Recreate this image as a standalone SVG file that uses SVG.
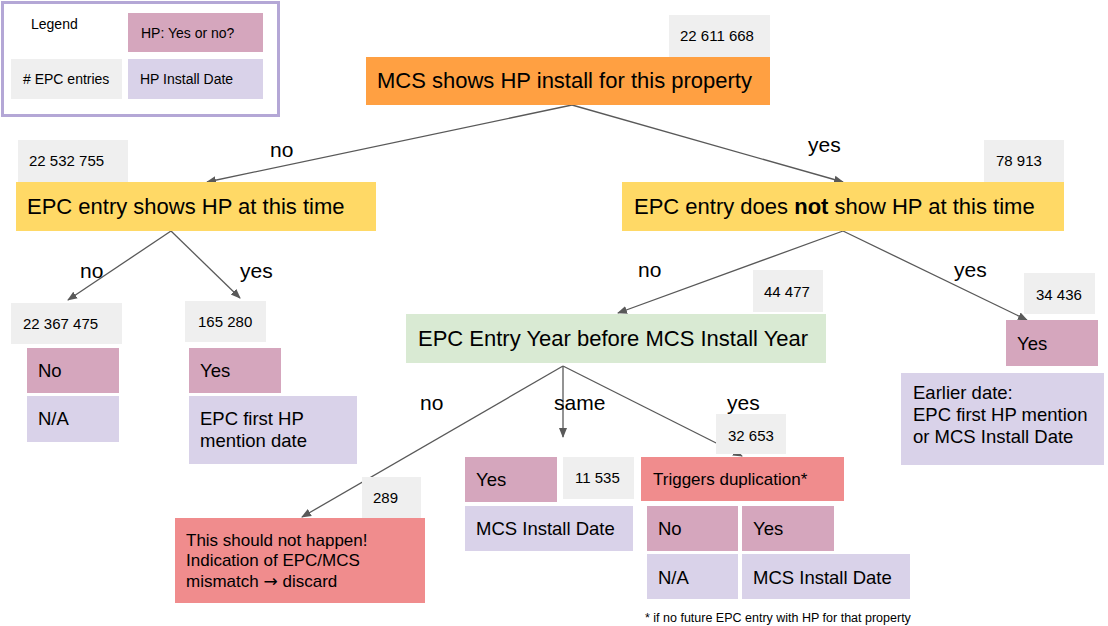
<svg xmlns="http://www.w3.org/2000/svg" width="1108" height="626" viewBox="0 0 1108 626">
<defs>
<marker id="ah" viewBox="0 0 10 10" refX="9" refY="5" markerWidth="10" markerHeight="10" markerUnits="userSpaceOnUse" orient="auto">
<path d="M0,1 L10,5 L0,9 z" fill="#595959"/>
</marker>
<style>
text{font-family:"Liberation Sans",Arial,sans-serif;fill:#000}
.cnt{fill:#efefef}
.yn{fill:#d5a6bd}
.dt{fill:#d9d2e9}
.red{fill:#f08c8d}
.n13{font-size:15px}
.lg{font-size:14px}
.n20{font-size:22px}
.n17{font-size:18.5px}
.n16{font-size:17px}
.lbl{font-size:21px}
.edge{fill:none;stroke:#595959;stroke-width:1.3;marker-end:url(#ah)}
</style>
</defs>
<rect width="1108" height="626" fill="#fff"/>
<g id="legend">
<rect x="2.5" y="2.5" width="276" height="113" fill="#fff" stroke="#b4a7d6" stroke-width="3"/>
<text x="31" y="29" class="lg">Legend</text>
<rect x="128" y="13" width="135" height="39" class="yn"/>
<text x="141" y="38" class="lg">HP: Yes or no?</text>
<rect x="11" y="59" width="111" height="40" class="cnt"/>
<text x="23" y="84" class="lg"># EPC entries</text>
<rect x="128" y="59" width="135" height="40" class="dt"/>
<text x="140" y="84" class="lg">HP Install Date</text>
</g>
<g id="connectors">
<line x1="572" y1="105" x2="207" y2="182" class="edge"/>
<line x1="572" y1="105" x2="843" y2="182" class="edge"/>
<line x1="171" y1="231" x2="68" y2="300" class="edge"/>
<line x1="171" y1="231" x2="240" y2="298" class="edge"/>
<line x1="843" y1="231" x2="618" y2="313" class="edge"/>
<line x1="843" y1="231" x2="1027" y2="320" class="edge"/>
<line x1="563" y1="366" x2="302" y2="517" class="edge"/>
<line x1="563" y1="366" x2="563" y2="437" class="edge"/>
<line x1="563" y1="366" x2="742" y2="456" class="edge"/>
<text x="270" y="157" class="lbl">no</text>
<text x="808" y="152" class="lbl">yes</text>
<text x="80" y="278" class="lbl">no</text>
<text x="240" y="278" class="lbl">yes</text>
<text x="638" y="277" class="lbl">no</text>
<text x="954" y="277" class="lbl">yes</text>
<text x="420" y="410" class="lbl">no</text>
<text x="554" y="410" class="lbl">same</text>
<text x="727" y="410" class="lbl">yes</text>
</g>
<g id="root">
<rect x="669" y="15" width="101" height="42" class="cnt"/>
<text x="680" y="41" class="n13">22 611 668</text>
<rect x="366" y="57" width="404" height="48" fill="#ffa042"/>
<text x="377" y="88" class="n20">MCS shows HP install for this property</text>
</g>
<g id="epc-shows">
<rect x="18" y="140" width="110" height="42" class="cnt"/>
<text x="29" y="166" class="n13">22 532 755</text>
<rect x="16" y="182" width="360" height="49" fill="#ffd966"/>
<text x="27" y="214" class="n20">EPC entry shows HP at this time</text>
</g>
<g id="epc-not">
<rect x="984" y="140" width="80" height="42" class="cnt"/>
<text x="996" y="166" class="n13">78 913</text>
<rect x="622" y="182" width="442" height="49" fill="#ffd966"/>
<text x="634" y="214" class="n20">EPC entry does <tspan font-weight="bold">not</tspan> show HP at this time</text>
</g>
<g id="leaf-no">
<rect x="11" y="303" width="111" height="41" class="cnt"/>
<text x="23" y="329" class="n13">22 367 475</text>
<rect x="27" y="348" width="92" height="45" class="yn"/>
<text x="38" y="377" class="n17">No</text>
<rect x="27" y="396" width="92" height="46" class="dt"/>
<text x="38" y="425" class="n17">N/A</text>
</g>
<g id="leaf-yes">
<rect x="185" y="301" width="81" height="41" class="cnt"/>
<text x="198" y="327" class="n13">165 280</text>
<rect x="189" y="348" width="92" height="45" class="yn"/>
<text x="200" y="377" class="n17">Yes</text>
<rect x="189" y="396" width="168" height="68" class="dt"/>
<text x="200" y="425" class="n17">EPC first HP</text>
<text x="200" y="447" class="n17">mention date</text>
</g>
<g id="year-compare">
<rect x="753" y="270" width="70" height="42" class="cnt"/>
<text x="764" y="297" class="n13">44 477</text>
<rect x="406" y="314" width="420" height="49" fill="#d9ead3"/>
<text x="418" y="346" class="n20">EPC Entry Year before MCS Install Year</text>
</g>
<g id="leaf-not-yes">
<rect x="1024" y="273" width="71" height="41" class="cnt"/>
<text x="1036" y="300" class="n13">34 436</text>
<rect x="1006" y="320" width="92" height="46" class="yn"/>
<text x="1017" y="350" class="n17">Yes</text>
<rect x="901" y="373" width="203" height="92" class="dt"/>
<text x="913" y="399" class="n17">Earlier date:</text>
<text x="913" y="421" class="n17">EPC first HP mention</text>
<text x="913" y="443" class="n17">or MCS Install Date</text>
</g>
<g id="leaf-mismatch">
<rect x="362" y="477" width="59" height="41" class="cnt"/>
<text x="373" y="503" class="n13">289</text>
<rect x="175" y="518" width="250" height="85" class="red"/>
<text x="186" y="546" class="n16">This should not happen!</text>
<text x="186" y="566" class="n16">Indication of EPC/MCS</text>
<text x="186" y="587" class="n16">mismatch <tspan font-family="'DejaVu Sans',sans-serif">→</tspan> discard</text>
</g>
<g id="leaf-same">
<rect x="465" y="457" width="92" height="45" class="yn"/>
<text x="476" y="486" class="n17">Yes</text>
<rect x="563" y="457" width="71" height="42" class="cnt"/>
<text x="575" y="483" class="n13">11 535</text>
<rect x="465" y="506" width="168" height="45" class="dt"/>
<text x="476" y="535" class="n17">MCS Install Date</text>
</g>
<g id="leaf-dup">
<rect x="716" y="414" width="70" height="40" class="cnt"/>
<text x="728" y="441" class="n13">32 653</text>
<rect x="641" y="457" width="203" height="44" class="red"/>
<text x="653" y="485" class="n16">Triggers duplication*</text>
<rect x="647" y="506" width="91" height="45" class="yn"/>
<text x="658" y="535" class="n17">No</text>
<rect x="742" y="506" width="92" height="45" class="yn"/>
<text x="753" y="535" class="n17">Yes</text>
<rect x="647" y="554" width="91" height="45" class="dt"/>
<text x="658" y="584" class="n17">N/A</text>
<rect x="742" y="554" width="168" height="45" class="dt"/>
<text x="753" y="584" class="n17">MCS Install Date</text>
<text x="645" y="622" font-size="12.5">* if no future EPC entry with HP for that property</text>
</g>
</svg>
